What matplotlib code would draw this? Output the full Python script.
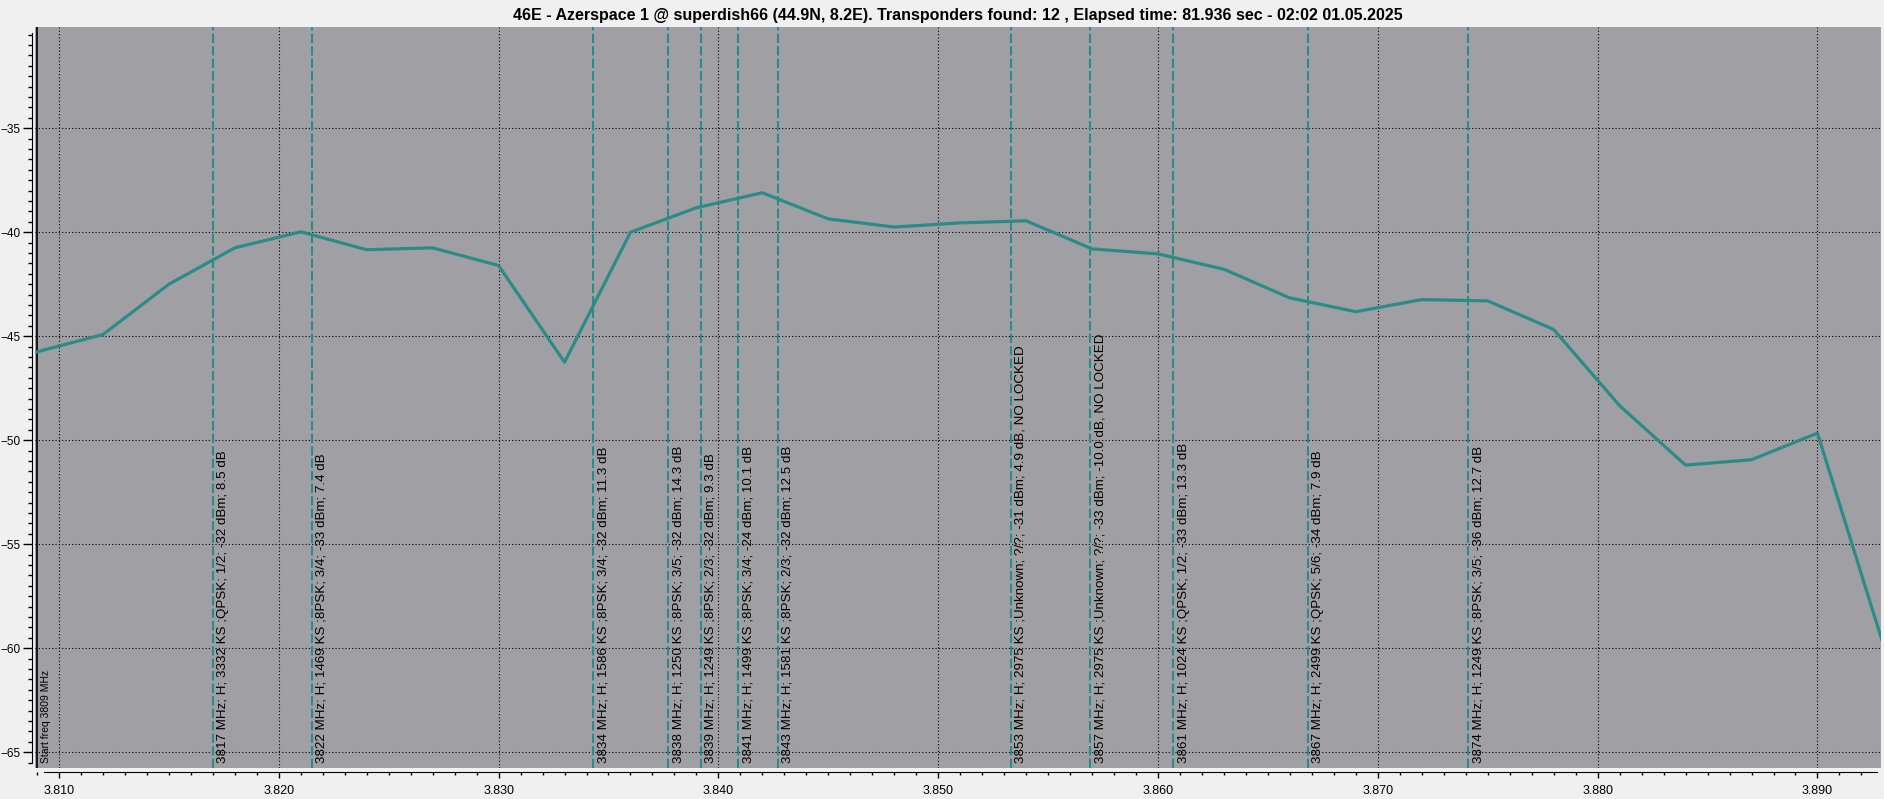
import matplotlib
matplotlib.use("Agg")
import matplotlib.pyplot as plt
from matplotlib.ticker import MultipleLocator, FormatStrFormatter

plt.rcParams['font.family'] = ['Liberation Sans', 'DejaVu Sans']

# spectrum scan (GHz, dBm)
freq_ghz = [3.809, 3.812, 3.815, 3.818, 3.821, 3.824, 3.827, 3.830, 3.833, 3.836,
            3.839, 3.842, 3.845, 3.848, 3.851, 3.854, 3.857, 3.860, 3.863, 3.866,
            3.869, 3.872, 3.875, 3.878, 3.881, 3.884, 3.887, 3.890, 3.893]
level_db = [-45.75, -44.92, -42.5, -40.75, -39.98, -40.84, -40.75, -41.6, -46.25, -40.0,
            -38.82, -38.1, -39.36, -39.75, -39.55, -39.45, -40.8, -41.04, -41.78, -43.16,
            -43.82, -43.24, -43.3, -44.68, -48.34, -51.2, -50.94, -49.66, -59.85]

# transponders found
tp_freq = [3.8170, 3.8215, 3.8343, 3.8377, 3.8392, 3.8409, 3.8427,
           3.8533, 3.8569, 3.8607, 3.8668, 3.8741]
tp_text = [
    "3817 MHz; H; 3332 KS ;QPSK; 1/2; -32 dBm; 8.5 dB",
    "3822 MHz; H; 1469 KS ;8PSK; 3/4; -33 dBm; 7.4 dB",
    "3834 MHz; H; 1586 KS ;8PSK; 3/4; -32 dBm; 11.3 dB",
    "3838 MHz; H; 1250 KS ;8PSK; 3/5; -32 dBm; 14.3 dB",
    "3839 MHz; H; 1249 KS ;8PSK; 2/3; -32 dBm; 9.3 dB",
    "3841 MHz; H; 1499 KS ;8PSK; 3/4; -24 dBm; 10.1 dB",
    "3843 MHz; H; 1581 KS ;8PSK; 2/3; -32 dBm; 12.5 dB",
    "3853 MHz; H; 2975 KS ;Unknown; ?/?; -31 dBm; 4.9 dB, NO LOCKED",
    "3857 MHz; H; 2975 KS ;Unknown; ?/?; -33 dBm; -10.0 dB, NO LOCKED",
    "3861 MHz; H; 1024 KS ;QPSK; 1/2; -33 dBm; 13.3 dB",
    "3867 MHz; H; 2499 KS ;QPSK; 5/6; -34 dBm; 7.9 dB",
    "3874 MHz; H; 1249 KS ;8PSK; 3/5; -36 dBm; 12.7 dB",
]
start_freq = 3.809
yticks = [-65, -60, -55, -50, -45, -40, -35]
title = ("46E - Azerspace 1 @ superdish66 (44.9N, 8.2E). Transponders found: 12 , "
         "Elapsed time: 81.936 sec - 02:02 01.05.2025")

teal = '#2b8c87'
W, H = 1884, 799
fig = plt.figure(figsize=(W/100, H/100), dpi=100, facecolor='#f0f0f0')
ax = fig.add_axes([35/W, 1-767.7/H, (1881-35)/W, (767.7-27)/H])
ax.set_facecolor('#a0a0a4')

ax.plot(freq_ghz, level_db, color=teal, lw=2.3, zorder=4, solid_joinstyle='round')
ymin, ymax = -65.75, -30.13
for f, t in zip(tp_freq, tp_text):
    ax.axvline(f, color=teal, lw=1.5, dashes=(4.5, 1.5), zorder=3)
    ax.annotate(t, xy=(f, ymin), xytext=(3, 3.6), textcoords='offset points',
                rotation=90, ha='left', va='bottom', fontsize=9.6, color='black', zorder=5)
ax.axvline(start_freq, color='black', lw=1.2, zorder=3)
ax.annotate("Start freq 3809 MHz", xy=(start_freq, ymin), xytext=(3, 3.3),
            textcoords='offset points', rotation=90, ha='left', va='bottom',
            fontsize=7.5, color='black')

ax.set_xlim(3.80891, 3.89289)
ax.set_ylim(ymin, ymax)
ax.xaxis.set_major_locator(MultipleLocator(0.010))
ax.xaxis.set_minor_locator(MultipleLocator(0.001))
ax.xaxis.set_major_formatter(FormatStrFormatter('%.3f'))
ax.set_yticks(yticks)
ax.yaxis.set_minor_locator(MultipleLocator(0.5))
ax.grid(True, which='major', color='black', ls=(0, (1, 2)), lw=0.8)

for s in ['top', 'right']:
    ax.spines[s].set_visible(False)
ax.spines['bottom'].set_position(('outward', 3.3))
ax.spines['left'].set_position(('outward', 2))
ax.spines['bottom'].set_bounds(3.8093, 3.8927)
ax.spines['left'].set_bounds(-65.5, -30.4)
ax.tick_params(axis='x', which='major', length=4.5, width=1, labelsize=9, pad=5)
ax.tick_params(axis='x', which='minor', length=2.5, width=1)
ax.tick_params(axis='y', which='major', length=6.5, width=1, labelsize=8.5, pad=2)
ax.tick_params(axis='y', which='minor', length=3, width=1)

fig.text((35+1881)/2/W, 1-15.7/H, title, ha='center', va='center',
         fontsize=11.5, fontweight='bold')

fig.savefig("out.png", dpi=100, facecolor=fig.get_facecolor())
